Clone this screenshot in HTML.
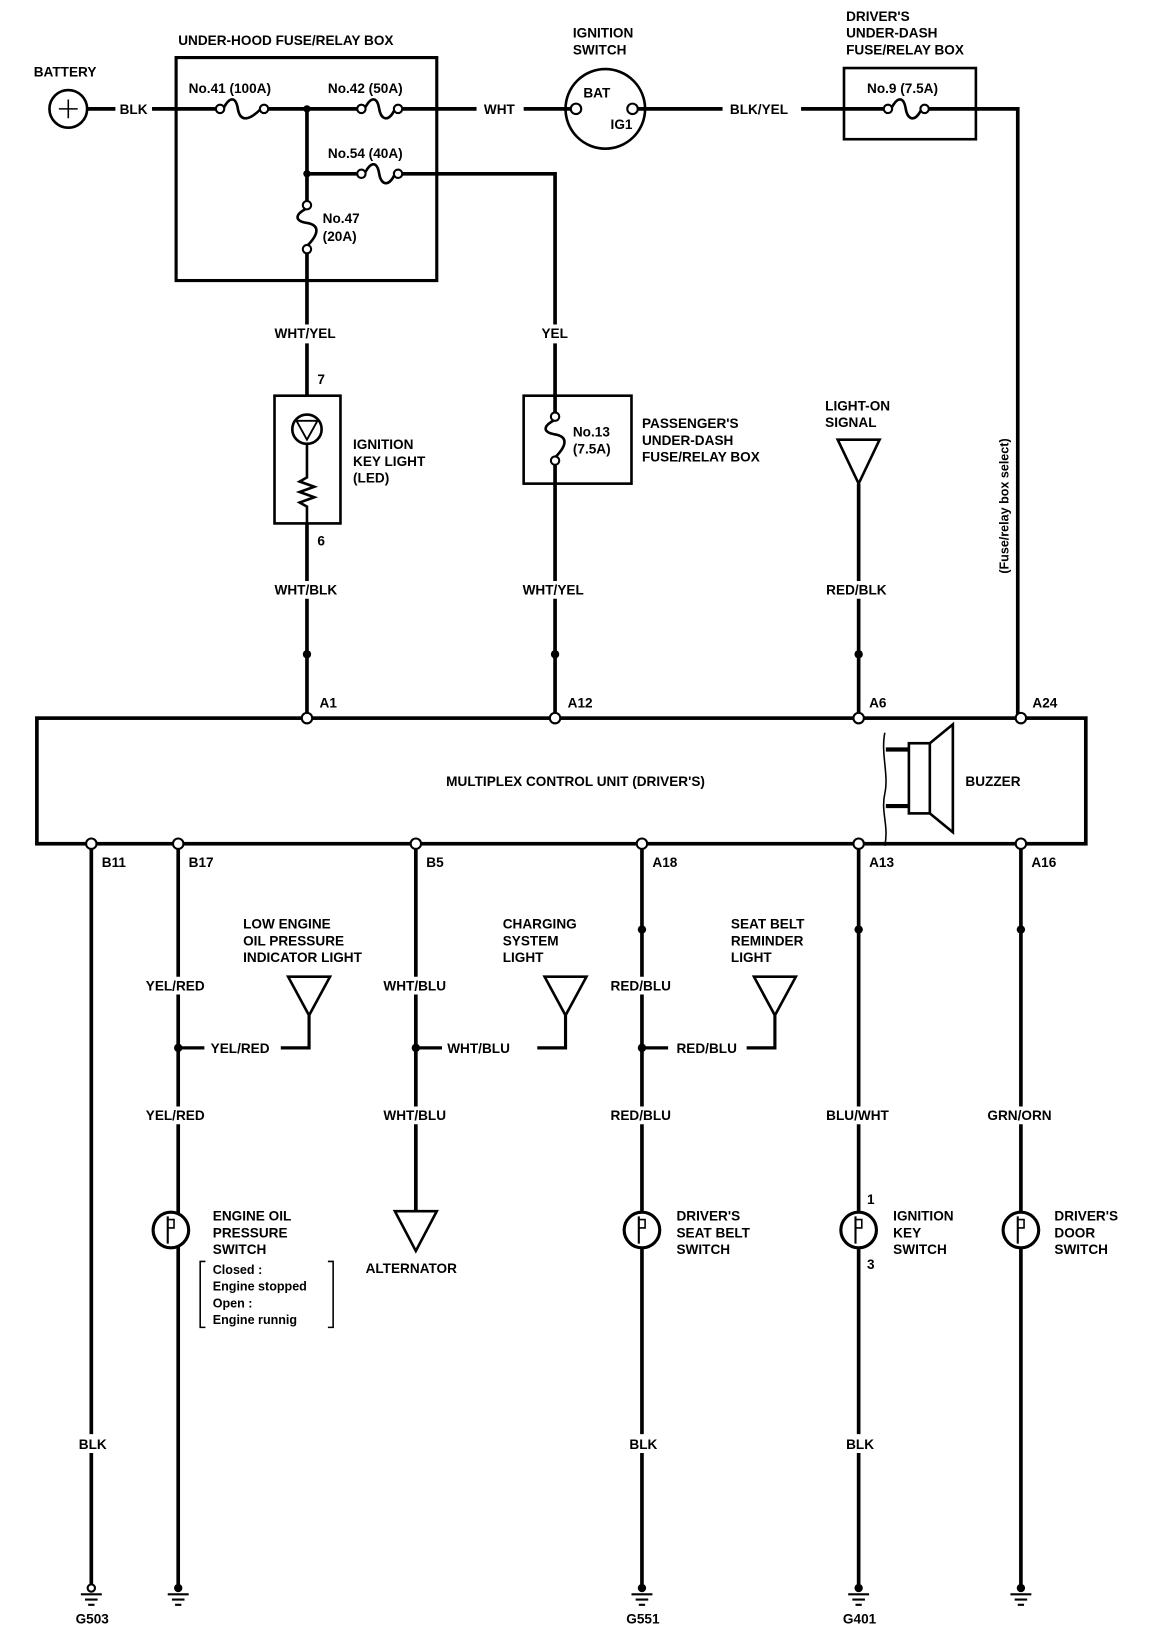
<!DOCTYPE html>
<html><head><meta charset="utf-8"><style>
html,body{margin:0;padding:0;background:#fff;}
svg{display:block;}
text{font-family:"Liberation Sans Narrow","Liberation Sans",sans-serif;font-weight:bold;font-size:13px;fill:#000;}
</style></head><body>
<svg width="1152" height="1632" viewBox="0 0 1100 1559" xmlns="http://www.w3.org/2000/svg">
<g fill="none" stroke="#000" stroke-width="3.5">
<circle cx="65" cy="104" r="18" stroke-width="2.5"/>
<path d="M56 104h18M65 95v18" stroke-width="1.5"/>
<path d="M83 104h27M145 104h65M252 104h93M380 104h75M500 104h48M608 104h82M765 104h83M883 104h89V686"/>
<path d="M213 104c6-12 12-12 14 0s10 12 22 0" stroke-width="2.5"/>
<path d="M348 104c6-12 12-12 14 0s10 12 15 0" stroke-width="2.5"/>
<path d="M851 104c6-12 12-12 14 0s10 12 15 0" stroke-width="2.5"/>
<path d="M293 166h52M380 166h150V310M530 328V378"/>
<path d="M348 166c6-12 12-12 14 0s10 12 15 0" stroke-width="2.5"/>
<path d="M293 104v89M293 241V310M293 328v50"/>
<path d="M293 199c-12 6-12 12 0 14s12 10 0 22" stroke-width="2.5"/>
<rect x="168" y="55" width="249" height="213" stroke-width="3"/>
<rect x="806" y="65" width="126" height="68" stroke-width="2.5"/>
<circle cx="578" cy="104" r="38" stroke-width="2.5"/>
<rect x="262" y="378" width="63" height="122" stroke-width="2.5"/>
<circle cx="293" cy="410" r="14" stroke-width="2.5"/>
<path d="M283 402h20l-10 18z" stroke-width="1.8"/>
<path d="M293 424v32l-7 4 14 5-14 5 14 5-14 5 7 4v32" stroke-width="2.5"/>
<path d="M293 500v55M293 572V686"/>
<rect x="500" y="378" width="103" height="84" stroke-width="2.5"/>
<path d="M530 378v17M530 443v112M530 572V686"/>
<path d="M530 401c-12 6-12 12 0 14s12 10 0 22" stroke-width="2.5"/>
<path d="M800 420h40l-20 42z" stroke-width="2.5"/>
<path d="M820 462v93M820 572V686"/>
<rect x="35" y="686" width="1002" height="120" stroke-width="3.5"/>
<rect x="868" y="710" width="20" height="67" stroke-width="2.5"/>
<path d="M888 710l22-18v103l-22-18" stroke-width="2.5"/>
<path d="M846 716h22M846 770h22" stroke-width="4"/>
<path d="M845 700c-4 20 4 40 0 58s4 30 0 50" stroke-width="1.5"/>
<path d="M87 806V1370M87 1388V1516"/>
<path d="M170 806V933M170 950V1057M170 1074V1518"/>
<path d="M397 806V933M397 950V1057M397 1074V1157"/>
<path d="M613 806V933M613 950V1057M613 1074V1370M613 1388V1518"/>
<path d="M820 806V1057M820 1074V1370M820 1388V1518"/>
<path d="M975 806V1057M975 1074V1518"/>
<path d="M275 933h40l-20 37z" stroke-width="2.5"/>
<path d="M520 933h40l-20 37z" stroke-width="2.5"/>
<path d="M720 933h40l-20 37z" stroke-width="2.5"/>
<path d="M295 970v31h-27M170 1001h25M540 970v31h-27M397 1001h25M740 970v31h-27M613 1001h25" stroke-width="3"/>
<path d="M377 1157h40l-20 38z" stroke-width="2.5"/>
<path d="M196 1205h-5v63h5M313 1205h5v63h-5" stroke-width="1.5"/>
<path d="M77 1523h20M81 1528h12M84 1533h6M160 1523h20M164 1528h12M167 1533h6M603 1523h20M607 1528h12M610 1533h6M810 1523h20M814 1528h12M817 1533h6M965 1523h20M969 1528h12M972 1533h6" stroke-width="2"/>
</g>
<g fill="#fff" stroke="#000" stroke-width="2">
<circle cx="210" cy="104" r="4"/><circle cx="252" cy="104" r="4"/>
<circle cx="345" cy="104" r="4"/><circle cx="380" cy="104" r="4"/>
<circle cx="848" cy="104" r="4"/><circle cx="883" cy="104" r="4"/>
<circle cx="345" cy="166" r="4"/><circle cx="380" cy="166" r="4"/>
<circle cx="293" cy="196" r="4"/><circle cx="293" cy="238" r="4"/>
<circle cx="530" cy="398" r="4"/><circle cx="530" cy="440" r="4"/>
<circle cx="550" cy="104" r="5"/><circle cx="604" cy="104" r="5"/>
<circle cx="293" cy="686" r="5"/><circle cx="530" cy="686" r="5"/><circle cx="820" cy="686" r="5"/><circle cx="975" cy="686" r="5"/>
<circle cx="87" cy="806" r="5"/><circle cx="170" cy="806" r="5"/><circle cx="397" cy="806" r="5"/><circle cx="613" cy="806" r="5"/><circle cx="820" cy="806" r="5"/><circle cx="975" cy="806" r="5"/>
<circle cx="163" cy="1175" r="17" stroke-width="3"/><circle cx="613" cy="1175" r="17" stroke-width="3"/><circle cx="820" cy="1175" r="17" stroke-width="3"/><circle cx="975" cy="1175" r="17" stroke-width="3"/>
<circle cx="87" cy="1517" r="3.5"/>
</g>
<g fill="#000">
<circle cx="293" cy="104" r="3.5"/><circle cx="293" cy="166" r="3.5"/>
<circle cx="293" cy="625" r="4"/><circle cx="530" cy="625" r="4"/><circle cx="820" cy="625" r="4"/>
<circle cx="613" cy="888" r="4"/><circle cx="820" cy="888" r="4"/><circle cx="975" cy="888" r="4"/>
<circle cx="170" cy="1001" r="4"/><circle cx="397" cy="1001" r="4"/><circle cx="613" cy="1001" r="4"/>
<circle cx="170" cy="1517" r="4"/><circle cx="613" cy="1517" r="4"/><circle cx="820" cy="1517" r="4"/><circle cx="975" cy="1517" r="4"/>
</g>
<g stroke="#000" stroke-width="2" fill="none">
<path d="M160 1162v26M610 1162v26M817 1162v26M972 1162v26"/>
<path d="M160 1165h6v8h-6M610 1165h6v8h-6M817 1165h6v8h-6M972 1165h6v8h-6" stroke-width="1.5"/>
</g>
<text x="32" y="73">BATTERY</text>
<text x="114" y="109">BLK</text>
<text x="170" y="43">UNDER-HOOD FUSE/RELAY BOX</text>
<text x="180" y="89">No.41 (100A)</text>
<text x="313" y="89">No.42 (50A)</text>
<text x="313" y="151">No.54 (40A)</text>
<text x="308" y="213">No.47</text><text x="308" y="230">(20A)</text>
<text x="462" y="109">WHT</text>
<text x="547" y="36">IGNITION</text><text x="547" y="52">SWITCH</text>
<text x="557" y="93">BAT</text><text x="583" y="123">IG1</text>
<text x="697" y="109">BLK/YEL</text>
<text x="808" y="20">DRIVER'S</text><text x="808" y="36">UNDER-DASH</text><text x="808" y="52">FUSE/RELAY BOX</text>
<text x="828" y="89">No.9 (7.5A)</text>
<text x="262" y="323">WHT/YEL</text>
<text x="517" y="323">YEL</text>
<text x="303" y="367">7</text><text x="303" y="521">6</text>
<text x="337" y="429">IGNITION</text><text x="337" y="445">KEY LIGHT</text><text x="337" y="461">(LED)</text>
<text x="547" y="417">No.13</text><text x="547" y="433">(7.5A)</text>
<text x="613" y="409">PASSENGER'S</text><text x="613" y="425">UNDER-DASH</text><text x="613" y="441">FUSE/RELAY BOX</text>
<text x="788" y="392">LIGHT-ON</text><text x="788" y="408">SIGNAL</text>
<text x="262" y="568">WHT/BLK</text><text x="499" y="568">WHT/YEL</text><text x="789" y="568">RED/BLK</text>
<text transform="translate(963,548) rotate(-90)" style="font-size:12px">(Fuse/relay box select)</text>
<text x="305" y="676">A1</text><text x="542" y="676">A12</text><text x="830" y="676">A6</text><text x="986" y="676">A24</text>
<text x="426" y="751">MULTIPLEX CONTROL UNIT (DRIVER'S)</text>
<text x="922" y="751">BUZZER</text>
<text x="97" y="828">B11</text><text x="180" y="828">B17</text><text x="407" y="828">B5</text><text x="623" y="828">A18</text><text x="830" y="828">A13</text><text x="985" y="828">A16</text>
<text x="232" y="887">LOW ENGINE</text><text x="232" y="903">OIL PRESSURE</text><text x="232" y="919">INDICATOR LIGHT</text>
<text x="480" y="887">CHARGING</text><text x="480" y="903">SYSTEM</text><text x="480" y="919">LIGHT</text>
<text x="698" y="887">SEAT BELT</text><text x="698" y="903">REMINDER</text><text x="698" y="919">LIGHT</text>
<text x="139" y="946">YEL/RED</text><text x="366" y="946">WHT/BLU</text><text x="583" y="946">RED/BLU</text>
<text x="201" y="1006">YEL/RED</text><text x="427" y="1006">WHT/BLU</text><text x="646" y="1006">RED/BLU</text>
<text x="139" y="1070">YEL/RED</text><text x="366" y="1070">WHT/BLU</text><text x="583" y="1070">RED/BLU</text><text x="789" y="1070">BLU/WHT</text><text x="943" y="1070">GRN/ORN</text>
<text x="203" y="1166">ENGINE OIL</text><text x="203" y="1182">PRESSURE</text><text x="203" y="1198">SWITCH</text>
<text x="203" y="1217" style="font-size:12px">Closed :</text><text x="203" y="1233" style="font-size:12px">Engine stopped</text><text x="203" y="1249" style="font-size:12px">Open :</text><text x="203" y="1265" style="font-size:12px">Engine runnig</text>
<text x="349" y="1216">ALTERNATOR</text>
<text x="646" y="1166">DRIVER'S</text><text x="646" y="1182">SEAT BELT</text><text x="646" y="1198">SWITCH</text>
<text x="828" y="1150">1</text><text x="828" y="1212">3</text>
<text x="853" y="1166">IGNITION</text><text x="853" y="1182">KEY</text><text x="853" y="1198">SWITCH</text>
<text x="1007" y="1166">DRIVER'S</text><text x="1007" y="1182">DOOR</text><text x="1007" y="1198">SWITCH</text>
<text x="75" y="1384">BLK</text><text x="601" y="1384">BLK</text><text x="808" y="1384">BLK</text>
<text x="72" y="1551">G503</text><text x="598" y="1551">G551</text><text x="805" y="1551">G401</text>
</svg>
</body></html>
